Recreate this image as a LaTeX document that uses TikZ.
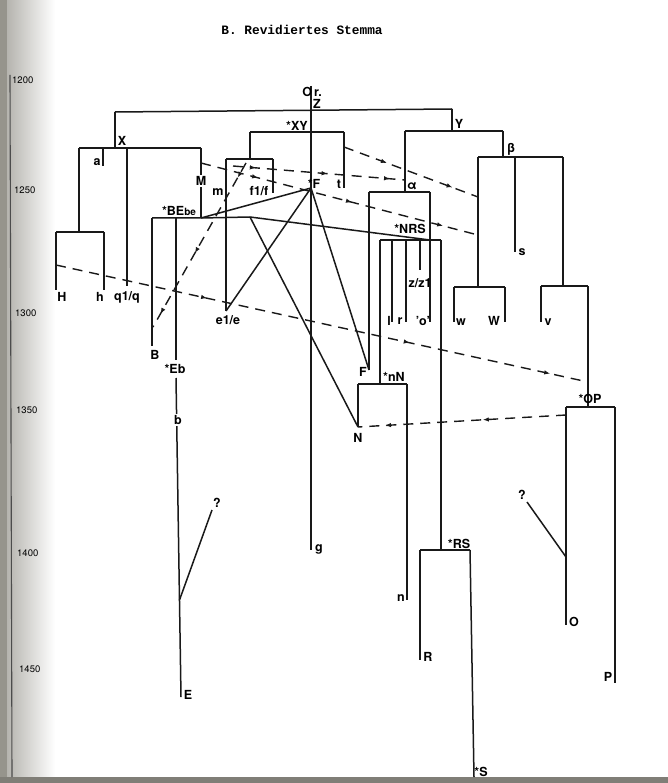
\documentclass[tikz,border=0pt]{standalone}
\usepackage{fontspec}
\setmainfont{TeX Gyre Heros}
\newfontfamily\titlefont{Liberation Mono}
\usetikzlibrary{arrows.meta,decorations.markings}
\definecolor{edgegray}{RGB}{150,148,140}
\newcommand\arrowhd{\arrow{Latex[length=6pt,width=4.5pt]}}
\tikzset{
  ln/.style={line width=1.5pt, black!90, line cap=butt},
  dl/.style={line width=1.4pt, black!90, dash pattern=on 10pt off 7pt},
  lab/.style={font=\fontsize{12.5}{12.5}\selectfont\bfseries, inner sep=0.5pt},
  onl/.style={lab, fill=white, inner sep=1pt},
  scl/.style={font=\fontsize{9.5}{9.5}\selectfont, inner sep=0pt, anchor=west},
}
\begin{document}
\begin{tikzpicture}[x=1pt,y=-1pt]
\useasboundingbox (0,0) rectangle (668,783);
\fill[white] (0,0) rectangle (668,783);
% page edge shading
\shade[left color=edgegray!70, right color=white] (7,0) rectangle (55,783);
\fill[edgegray] (0,0) rectangle (7,783);
\fill[edgegray!85!black] (0,777) rectangle (668,783);
% time axis
\coordinate (ax1) at (10,75);
\coordinate (ax2) at (12,777);
\draw[line width=1.1pt, black!70] (ax1) -- (ax2);
\node[scl] (y1200) at (12,80) {1200};
\node[scl] (y1250) at (14,190) {1250};
\node[scl] (y1300) at (15,313) {1300};
\node[scl] (y1350) at (16,410) {1350};
\node[scl] (y1400) at (17,553) {1400};
\node[scl] (y1450) at (19,669) {1450};
% title
\node[font=\titlefont\bfseries\fontsize{12.8}{12.8}\selectfont] (title) at (302,30) {B. Revidiertes Stemma};

% ---------- coordinates ----------
\coordinate (or) at (311,86);
\coordinate (gEnd) at (311,550);
\coordinate (tl) at (115,112); \coordinate (tr) at (452,109);
\coordinate (Xp) at (115,148);
\coordinate (XL) at (79,148); \coordinate (XR) at (201,148);
\coordinate (a1) at (103,148); \coordinate (a2) at (103,166);
\coordinate (q1) at (127,148); \coordinate (q2) at (127,286);
\coordinate (Hp) at (79,232); \coordinate (HL) at (56,232); \coordinate (HR) at (104,232);
\coordinate (H2) at (56,290); \coordinate (h2) at (104,290);
\coordinate (BE) at (201,218); \coordinate (BEL) at (152,218); \coordinate (BEc) at (250,217);
\coordinate (B2) at (152,346);
\coordinate (Eb1) at (176,218); \coordinate (Eb2) at (176,360);
\coordinate (Eb3) at (176,378); \coordinate (E2) at (181,697);
\coordinate (Eq) at (179.5,600); \coordinate (Eq2) at (212,510);
\coordinate (XYL) at (250,132); \coordinate (XYR) at (344,132);
\coordinate (fb) at (250,159); \coordinate (fL) at (226,159); \coordinate (fR) at (273,159);
\coordinate (e2) at (226,311); \coordinate (f2) at (273,193); \coordinate (t2) at (344,188);
\coordinate (Fs) at (311,188);
\coordinate (Yp) at (452,131); \coordinate (YL) at (405,131); \coordinate (YR) at (503,131);
\coordinate (al) at (405,192); \coordinate (alL) at (369,192); \coordinate (alR) at (430,192);
\coordinate (Fp) at (369,370); \coordinate (o2) at (430,322);
\coordinate (NRS) at (430,240); \coordinate (NRSL) at (380,240); \coordinate (NRSR) at (441,240);
\coordinate (l1) at (392,240); \coordinate (l2) at (392,322);
\coordinate (r1) at (406,240); \coordinate (r2) at (406,322);
\coordinate (z1) at (420,240); \coordinate (z2) at (420,270);
\coordinate (nN) at (380,384); \coordinate (nNL) at (358,384); \coordinate (nNR) at (407,384);
\coordinate (Np) at (358,427); \coordinate (n2) at (407,600);
\coordinate (RS) at (441,550); \coordinate (RSL) at (420,550); \coordinate (RSR) at (470,550);
\coordinate (R2) at (420,660); \coordinate (S2) at (474,777);
\coordinate (bt) at (503,157); \coordinate (btL) at (478,157); \coordinate (btR) at (563,157);
\coordinate (s1) at (515,157); \coordinate (s2) at (515,252);
\coordinate (wp) at (478,287); \coordinate (wL) at (454,287); \coordinate (wR) at (505,287);
\coordinate (w2) at (454,322); \coordinate (W2) at (505,322);
\coordinate (vp) at (563,286); \coordinate (vL) at (541,286); \coordinate (vR) at (588,286);
\coordinate (v2) at (541,322);
\coordinate (OP) at (588,407); \coordinate (OPL) at (566,407); \coordinate (OPR) at (615,407);
\coordinate (O2) at (566,625); \coordinate (P2) at (615,683);
\coordinate (Oq) at (566,557); \coordinate (Oq2) at (527,502);

% ---------- solid tree lines ----------
\draw[ln] (or) -- (gEnd);
\draw[ln] (tl) -- (tr);
\draw[ln] (tl) -- (Xp);
\draw[ln] (XL) -- (XR);
\draw[ln] (a1) -- (a2);
\draw[ln] (q1) -- (q2);
\draw[ln] (XL) -- (Hp);
\draw[ln] (HL) -- (HR);
\draw[ln] (HL) -- (H2);
\draw[ln] (HR) -- (h2);
\draw[ln] (XR) -- (BE);
\draw[ln] (BEL) -- (BE) -- (BEc);
\draw[ln] (BEL) -- (B2);
\draw[ln] (Eb1) -- (Eb2);
\draw[ln] (Eb3) -- (E2);
\draw[ln] (Eq) -- (Eq2);
\draw[ln] (XYL) -- (XYR);
\draw[ln] (XYL) -- (fb);
\draw[ln] (fL) -- (fR);
\draw[ln] (fL) -- (e2);
\draw[ln] (fR) -- (f2);
\draw[ln] (XYR) -- (t2);
\draw[ln] (BE) -- (Fs);
\draw[ln] (Fs) -- (e2);
\draw[ln] (Fs) -- (Fp);
\draw[ln] (BEc) -- (Np);
\draw[ln] (BEc) -- (NRS);
\draw[ln] (tr) -- (Yp);
\draw[ln] (YL) -- (YR);
\draw[ln] (YL) -- (al);
\draw[ln] (alL) -- (alR);
\draw[ln] (alL) -- (Fp);
\draw[ln] (alR) -- (o2);
\draw[ln] (NRSL) -- (NRSR);
\draw[ln] (NRSL) -- (nN);
\draw[ln] (l1) -- (l2);
\draw[ln] (r1) -- (r2);
\draw[ln] (z1) -- (z2);
\draw[ln] (NRSR) -- (RS);
\draw[ln] (nNL) -- (nNR);
\draw[ln] (nNL) -- (Np);
\draw[ln] (nNR) -- (n2);
\draw[ln] (RSL) -- (RSR);
\draw[ln] (RSL) -- (R2);
\draw[ln] (RSR) -- (S2);
\draw[ln] (YR) -- (bt);
\draw[ln] (btL) -- (btR);
\draw[ln] (s1) -- (s2);
\draw[ln] (btL) -- (wp);
\draw[ln] (wL) -- (wR);
\draw[ln] (wL) -- (w2);
\draw[ln] (wR) -- (W2);
\draw[ln] (btR) -- (vp);
\draw[ln] (vL) -- (vR);
\draw[ln] (vL) -- (v2);
\draw[ln] (vR) -- (OP);
\draw[ln] (OPL) -- (OPR);
\draw[ln] (OPL) -- (O2);
\draw[ln] (OPR) -- (P2);
\draw[ln] (Oq) -- (Oq2);

% ---------- dashed contamination lines ----------
\coordinate (d1a) at (56,265); \coordinate (d1b) at (588,382);
\draw[dl, postaction={decorate,decoration={markings,
  mark=at position 0.284 with {\arrowhd},
  mark=at position 0.665 with {\arrowhd},
  mark=at position 0.929 with {\arrowhd}}}] (d1a) -- (d1b);
\coordinate (d2a) at (566,415);
\draw[dl, postaction={decorate,decoration={markings,
  mark=at position 0.40 with {\arrowhd},
  mark=at position 0.87 with {\arrowhd}}}] (d2a) -- (Np);
\coordinate (d3a) at (201,163); \coordinate (d3b) at (478,235);
\draw[dl, postaction={decorate,decoration={markings,
  mark=at position 0.206 with {\arrowhd},
  mark=at position 0.545 with {\arrowhd},
  mark=at position 0.874 with {\arrowhd}}}] (d3a) -- (d3b);
\coordinate (d4a) at (344,147); \coordinate (d4b) at (478,197);
\draw[dl, postaction={decorate,decoration={markings,
  mark=at position 0.32 with {\arrowhd},
  mark=at position 0.81 with {\arrowhd}}}] (d4a) -- (d4b);
\coordinate (d5a) at (233,166); \coordinate (d5b) at (405,180);
\draw[dl, postaction={decorate,decoration={markings,
  mark=at position 0.133 with {\arrowhd},
  mark=at position 0.55 with {\arrowhd},
  mark=at position 0.913 with {\arrowhd}}}] (d5a) -- (d5b);
\coordinate (d6a) at (246,163); \coordinate (d6b) at (153,327);
\draw[dl, postaction={decorate,decoration={markings,
  mark=at position 0.09 with {\arrowhd},
  mark=at position 0.55 with {\arrowhd},
  mark=at position 0.92 with {\arrowhd}}}] (d6a) -- (d6b);

% ---------- labels ----------
\node[lab] (Or) at (312,92) {O\,r.};
\node[lab] (Z) at (317,104) {Z};
\node[lab] (X) at (122,141) {X};
\node[lab] (la) at (97,162) {a};
\node[onl] (M) at (201,181) {M};
\node[lab] (m) at (218,192) {m};
\node[lab] (f1f) at (259,191) {f1/f};
\node[lab] (XY) at (297,126) {*XY};
\node[lab] (sF) at (314,184) {*F};
\node[lab] (t) at (339,184) {t};
\node[lab] (Y) at (459,124) {Y};
\node[lab] (beta) at (511,149) {β};
\node[lab] (alpha) at (412,186) {α};
\node[lab] (NRSlab) at (410,229) {*NRS};
\node[lab] (zz) at (420,283) {z/z1};
\node[lab] (l) at (389,321) {l};
\node[lab] (r) at (400,321) {r};
\node[lab] (o) at (423,321) {'o'};
\node[lab] (w) at (461,322) {w};
\node[lab] (W) at (494,321) {W};
\node[lab] (v) at (548,322) {v};
\node[lab] (s) at (522,252) {s};
\node[lab] (BEbe) at (179,211) {*BE{\fontsize{10}{10}\selectfont be}};
\node[lab] (H) at (62,297) {H};
\node[lab] (h) at (100,297) {h};
\node[lab] (q) at (127,297) {q1/q};
\node[lab] (e) at (228,320) {e1/e};
\node[lab] (B) at (155,355) {B};
\node[lab] (Eb) at (175,369) {*Eb};
\node[onl] (b) at (178,420) {b};
\node[lab] (F) at (363,372) {F};
\node[lab] (nNlab) at (394,377) {*nN};
\node[lab] (N) at (358,438) {N};
\node[lab] (OPlab) at (590,399) {*OP};
\node[lab] (q1m) at (217,503) {?};
\node[lab] (q2m) at (522,495) {?};
\node[lab] (g) at (319,549) {g};
\node[lab] (RSlab) at (459,544) {*RS};
\node[lab] (n) at (401,598) {n};
\node[lab] (O) at (574,622) {O};
\node[lab] (R) at (428,657) {R};
\node[lab] (P) at (608,677) {P};
\node[lab] (E) at (188,695) {E};
\node[lab] (S) at (481,772) {*S};
\end{tikzpicture}
\end{document}
